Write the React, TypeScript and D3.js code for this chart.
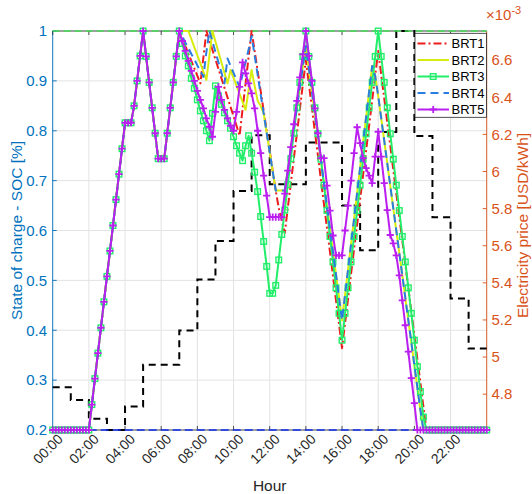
import React from "react";
import * as d3 from "d3";

// ---------- DATA ----------
// x tick hours (labels every 2 h)
const hourTicks = [0, 2, 4, 6, 8, 10, 12, 14, 16, 18, 20, 22];
const socTicks = [0.2, 0.3, 0.4, 0.5, 0.6, 0.7, 0.8, 0.9, 1];
const priceTicks = [4.8, 5, 5.2, 5.4, 5.6, 5.8, 6, 6.2, 6.4, 6.6];

// Hourly electricity price (x1e-3 USD/kWh), 00:00 ... 23:00
const price = [
  4.837, 4.769, 4.668, 4.607, 4.733, 4.959, 4.959, 5.143, 5.418, 5.626, 5.895, 6.195,
  5.931, 5.931, 6.156, 6.156, 5.817, 5.575, 6.213, 6.757, 6.191, 5.753, 5.316, 5.046,
];

// SOC limits
const socMax = 1;
const socMin = 0.2;

// SOC every 10 minutes, 00:00 ... 24:00
const BRT1 = [
  0.2, 0.2, 0.2, 0.2, 0.2, 0.2, 0.2, 0.2, 0.2, 0.2, 0.2, 0.2,
  0.2, 0.251, 0.303, 0.354, 0.405, 0.457, 0.508, 0.559, 0.61, 0.662, 0.713, 0.764,
  0.816, 0.816, 0.816, 0.85, 0.9, 0.95, 1, 0.949, 0.897, 0.846, 0.795, 0.744,
  0.744, 0.744, 0.795, 0.846, 0.897, 0.949, 1, 0.985, 0.97, 0.955, 0.94, 0.925,
  0.91, 0.895, 0.947, 1, 0.981, 0.962, 0.943, 0.924, 0.905, 0.886, 0.867, 0.848,
  0.829, 0.81, 0.79, 0.843, 0.895, 0.948, 1, 0.96, 0.92, 0.88, 0.84, 0.8,
  0.76, 0.72, 0.68, 0.645, 0.62, 0.595, 0.645, 0.694, 0.744, 0.793, 0.843, 0.893,
  0.942, 0.894, 0.846, 0.798, 0.75, 0.701, 0.653, 0.605, 0.557, 0.509, 0.46, 0.412,
  0.364, 0.414, 0.463, 0.513, 0.563, 0.612, 0.662, 0.712, 0.761, 0.811, 0.861, 0.91,
  0.96, 0.912, 0.865, 0.817, 0.77, 0.722, 0.675, 0.627, 0.58, 0.532, 0.485, 0.437,
  0.39, 0.342, 0.295, 0.247, 0.2, 0.2, 0.2, 0.2, 0.2, 0.2, 0.2, 0.2,
  0.2, 0.2, 0.2, 0.2, 0.2, 0.2, 0.2, 0.2, 0.2, 0.2, 0.2, 0.2,
  0.2,
];
const BRT2 = [
  0.2, 0.2, 0.2, 0.2, 0.2, 0.2, 0.2, 0.2, 0.2, 0.2, 0.2, 0.2,
  0.2, 0.251, 0.303, 0.354, 0.405, 0.457, 0.508, 0.559, 0.61, 0.662, 0.713, 0.764,
  0.816, 0.816, 0.816, 0.85, 0.9, 0.95, 1, 0.949, 0.897, 0.846, 0.795, 0.744,
  0.744, 0.744, 0.795, 0.846, 0.897, 0.949, 1, 1, 1, 1, 0.984, 0.967,
  0.951, 0.935, 0.918, 0.902, 0.951, 1, 0.979, 0.958, 0.937, 0.916, 0.895, 0.922,
  0.906, 0.89, 0.874, 0.858, 0.842, 0.882, 0.922, 0.89, 0.86, 0.85, 0.835, 0.796,
  0.757, 0.718, 0.68, 0.68, 0.68, 0.68, 0.721, 0.763, 0.804, 0.846, 0.887, 0.929,
  0.97, 0.924, 0.878, 0.832, 0.787, 0.741, 0.695, 0.649, 0.603, 0.557, 0.512, 0.466,
  0.42, 0.471, 0.522, 0.573, 0.624, 0.675, 0.726, 0.777, 0.828, 0.879, 0.93, 0.91,
  0.87, 0.825, 0.78, 0.735, 0.69, 0.645, 0.6, 0.555, 0.51, 0.465, 0.42, 0.375,
  0.33, 0.285, 0.24, 0.2, 0.2, 0.2, 0.2, 0.2, 0.2, 0.2, 0.2, 0.2,
  0.2, 0.2, 0.2, 0.2, 0.2, 0.2, 0.2, 0.2, 0.2, 0.2, 0.2, 0.2,
  0.2,
];
const BRT3 = [
  0.2, 0.2, 0.2, 0.2, 0.2, 0.2, 0.2, 0.2, 0.2, 0.2, 0.2, 0.2,
  0.2, 0.251, 0.303, 0.354, 0.405, 0.457, 0.508, 0.559, 0.61, 0.662, 0.713, 0.764,
  0.816, 0.816, 0.816, 0.85, 0.9, 0.95, 1, 0.949, 0.897, 0.846, 0.795, 0.744,
  0.744, 0.744, 0.795, 0.846, 0.897, 0.949, 1, 0.975, 0.95, 0.93, 0.905, 0.885,
  0.862, 0.84, 0.82, 0.8, 0.78, 0.835, 0.89, 0.87, 0.853, 0.836, 0.82, 0.805,
  0.788, 0.77, 0.755, 0.74, 0.77, 0.79, 0.755, 0.717, 0.678, 0.628, 0.578, 0.528,
  0.474, 0.474, 0.49, 0.541, 0.592, 0.641, 0.692, 0.744, 0.795, 0.846, 0.897, 0.949,
  1, 0.949, 0.897, 0.846, 0.794, 0.743, 0.691, 0.64, 0.588, 0.537, 0.485, 0.434,
  0.38, 0.434, 0.485, 0.537, 0.588, 0.64, 0.691, 0.743, 0.794, 0.846, 0.897, 0.949,
  1, 0.949, 0.897, 0.846, 0.794, 0.743, 0.691, 0.64, 0.588, 0.537, 0.485, 0.434,
  0.38, 0.327, 0.277, 0.226, 0.2, 0.2, 0.2, 0.2, 0.2, 0.2, 0.2, 0.2,
  0.2, 0.2, 0.2, 0.2, 0.2, 0.2, 0.2, 0.2, 0.2, 0.2, 0.2, 0.2,
  0.2,
];
const BRT4 = [
  0.2, 0.2, 0.2, 0.2, 0.2, 0.2, 0.2, 0.2, 0.2, 0.2, 0.2, 0.2,
  0.2, 0.251, 0.303, 0.354, 0.405, 0.457, 0.508, 0.559, 0.61, 0.662, 0.713, 0.764,
  0.816, 0.816, 0.816, 0.85, 0.9, 0.95, 1, 0.949, 0.897, 0.846, 0.795, 0.744,
  0.744, 0.744, 0.795, 0.846, 0.897, 0.949, 1, 0.989, 0.977, 0.966, 0.954, 0.943,
  0.931, 0.92, 0.908, 0.958, 1, 0.979, 0.958, 0.937, 0.916, 0.895, 0.945, 0.93,
  0.916, 0.902, 0.888, 0.913, 0.938, 0.963, 0.99, 0.951, 0.912, 0.873, 0.835, 0.796,
  0.757, 0.718, 0.68, 0.68, 0.68, 0.68, 0.721, 0.763, 0.804, 0.846, 0.887, 0.929,
  0.97, 0.924, 0.878, 0.832, 0.787, 0.741, 0.695, 0.649, 0.603, 0.557, 0.512, 0.466,
  0.42, 0.471, 0.522, 0.573, 0.624, 0.675, 0.726, 0.777, 0.828, 0.879, 0.93, 0.91,
  0.87, 0.825, 0.78, 0.735, 0.69, 0.645, 0.6, 0.555, 0.51, 0.465, 0.42, 0.375,
  0.33, 0.285, 0.24, 0.2, 0.2, 0.2, 0.2, 0.2, 0.2, 0.2, 0.2, 0.2,
  0.2, 0.2, 0.2, 0.2, 0.2, 0.2, 0.2, 0.2, 0.2, 0.2, 0.2, 0.2,
  0.2,
];
const BRT5 = [
  0.2, 0.2, 0.2, 0.2, 0.2, 0.2, 0.2, 0.2, 0.2, 0.2, 0.2, 0.2,
  0.2, 0.251, 0.303, 0.354, 0.405, 0.457, 0.508, 0.559, 0.61, 0.662, 0.713, 0.764,
  0.816, 0.816, 0.816, 0.85, 0.9, 0.95, 1, 0.949, 0.897, 0.846, 0.795, 0.744,
  0.744, 0.744, 0.795, 0.846, 0.897, 0.949, 1, 0.98, 0.96, 0.94, 0.92, 0.9,
  0.88, 0.862, 0.845, 0.825, 0.808, 0.788, 0.838, 0.888, 0.862, 0.842, 0.825, 0.81,
  0.8, 0.838, 0.888, 0.937, 0.915, 0.895, 0.875, 0.845, 0.8, 0.755, 0.71, 0.67,
  0.627, 0.627, 0.627, 0.627, 0.627, 0.674, 0.72, 0.767, 0.813, 0.86, 0.907, 0.953,
  1, 0.95, 0.9, 0.845, 0.795, 0.745, 0.745, 0.69, 0.64, 0.59, 0.55, 0.55,
  0.55, 0.6, 0.65, 0.7, 0.755, 0.807, 0.775, 0.745, 0.725, 0.71, 0.695, 0.748,
  0.798, 0.748, 0.695, 0.641, 0.591, 0.574, 0.55, 0.51, 0.46, 0.41, 0.357, 0.304,
  0.254, 0.2, 0.2, 0.2, 0.2, 0.2, 0.2, 0.2, 0.2, 0.2, 0.2, 0.2,
  0.2, 0.2, 0.2, 0.2, 0.2, 0.2, 0.2, 0.2, 0.2, 0.2, 0.2, 0.2,
  0.2,
];
const seriesNames = ["BRT1", "BRT2", "BRT3", "BRT4", "BRT5"];
const seriesValues = [BRT1, BRT2, BRT3, BRT4, BRT5];

// ---------- STYLE ----------
const W = 532;
const H = 494;
const PL = 52.7;
const PR = 486.7;
const PT = 31;
const PB = 430;
const FONT = "'Liberation Sans', Arial, Helvetica, sans-serif";
const LEFT_C = "#0072BD";
const RIGHT_C = "#D95319";
const AX_C = "#262626";
const styles = [
  { color: "#ee1c1c", dash: "8,3,2,3", marker: "none" },
  { color: "#d8ec10", dash: "none", marker: "none" },
  { color: "#22ee6a", dash: "none", marker: "square" },
  { color: "#2a7de0", dash: "8,5", marker: "none" },
  { color: "#bb1ff0", dash: "none", marker: "plus" },
];

function Marker({ kind, cx, cy, color }: { kind: string; cx: number; cy: number; color: string }) {
  if (kind === "square") {
    return <rect x={cx - 2.8} y={cy - 2.8} width={5.6} height={5.6} fill="none" stroke={color} strokeWidth={1.4} />;
  }
  if (kind === "plus") {
    return (
      <path d={`M${cx - 3.6},${cy}H${cx + 3.6}M${cx},${cy - 3.6}V${cy + 3.6}`} stroke={color} strokeWidth={1.8} fill="none" />
    );
  }
  return null;
}

export default function App() {
  const x = d3.scaleLinear().domain([0, 24]).range([PL, PR]);
  const yL = d3.scaleLinear().domain([socMin, socMax]).range([PB, PT]);
  const yR = d3
    .scaleLinear()
    .domain([d3.min(price) as number, d3.max(price) as number])
    .range([PB, PT]);

  const socLine = d3
    .line<number>()
    .x((_, i) => x(i / 6))
    .y((d) => yL(d));
  const pricePts: [number, number][] = price.map((p, i) => [i, p] as [number, number]);
  pricePts.push([24, price[price.length - 1]]);
  const priceLine = d3
    .line<[number, number]>()
    .x((d) => x(d[0]))
    .y((d) => yR(d[1]))
    .curve(d3.curveStepAfter);

  const gridX = [...hourTicks, 24];
  const legX = 415;
  const legY = 33.3;
  const legW = 71.4;
  const legH = 84;

  return (
    <svg
      width={W}
      height={H}
      style={{ position: "absolute", left: 0, top: 0, background: "#fff" }}
      fontFamily={FONT}
    >
      <rect x={0} y={0} width={W} height={H} fill="#fff" />
      {/* grid */}
      {gridX.map((h) => (
        <line key={"gx" + h} x1={x(h)} x2={x(h)} y1={PT} y2={PB} stroke="#e3e3e3" strokeWidth={1} />
      ))}
      {socTicks.map((v) => (
        <line key={"gy" + v} x1={PL} x2={PR} y1={yL(v)} y2={yL(v)} stroke="#e3e3e3" strokeWidth={1} />
      ))}
      {/* axes box */}
      <line x1={PL} x2={PR} y1={PT} y2={PT} stroke={AX_C} strokeWidth={0.8} />
      <line x1={PL} x2={PR} y1={PB} y2={PB} stroke={AX_C} strokeWidth={0.8} />
      <line x1={PL} x2={PL} y1={PT} y2={PB} stroke={LEFT_C} strokeWidth={0.9} />
      <line x1={PR} x2={PR} y1={PT} y2={PB} stroke={RIGHT_C} strokeWidth={0.9} />
      {/* ticks */}
      {hourTicks.map((h) => (
        <g key={"xt" + h}>
          <line x1={x(h)} x2={x(h)} y1={PB} y2={PB - 4} stroke={AX_C} strokeWidth={0.8} />
          <line x1={x(h)} x2={x(h)} y1={PT} y2={PT + 4} stroke={AX_C} strokeWidth={0.8} />
        </g>
      ))}
      {socTicks.map((v) => (
        <line key={"lt" + v} x1={PL} x2={PL + 4} y1={yL(v)} y2={yL(v)} stroke={LEFT_C} strokeWidth={0.9} />
      ))}
      {priceTicks.map((v) => (
        <line key={"rt" + v} x1={PR} x2={PR - 4} y1={yR(v)} y2={yR(v)} stroke={RIGHT_C} strokeWidth={0.9} />
      ))}

      {/* price */}
      <path d={priceLine(pricePts) || ""} fill="none" stroke="#000" strokeWidth={2} strokeDasharray="7,5" />
      {/* SOC limits */}
      <line x1={PL} x2={PR} y1={yL(socMax)} y2={yL(socMax)} stroke="#44dd55" strokeWidth={1.6} strokeDasharray="7,4" />
      <line x1={PL} x2={PR} y1={yL(socMin)} y2={yL(socMin)} stroke="#1030f0" strokeWidth={1.6} strokeDasharray="8,4" />

      {/* series */}
      {seriesValues.map((vals, si) => {
        const st = styles[si];
        return (
          <g key={seriesNames[si]}>
            <path
              d={socLine(vals) || ""}
              fill="none"
              stroke={st.color}
              strokeWidth={2}
              strokeDasharray={st.dash === "none" ? undefined : st.dash}
              strokeLinejoin="round"
            />
            {st.marker !== "none" &&
              vals.map((v, i) => <Marker key={i} kind={st.marker} cx={x(i / 6)} cy={yL(v)} color={st.color} />)}
          </g>
        );
      })}

      {/* left tick labels */}
      {socTicks.map((v) => (
        <text key={"ll" + v} x={47} y={yL(v)} dy="0.35em" textAnchor="end" fontSize={15} fill={LEFT_C}>
          {d3.format("~g")(v)}
        </text>
      ))}
      {/* right tick labels */}
      {priceTicks.map((v) => (
        <text key={"rl" + v} x={491.5} y={yR(v)} dy="0.35em" textAnchor="start" fontSize={15} fill={RIGHT_C}>
          {d3.format("~g")(v)}
        </text>
      ))}
      <text x={486} y={20} fontSize={15} fill={RIGHT_C}>
        ×10
        <tspan dy={-6} fontSize={11}>
          -3
        </tspan>
      </text>
      {/* x tick labels */}
      {hourTicks.map((h) => {
        const ax = x(h) + 11;
        const ay = 440;
        return (
          <text
            key={"xl" + h}
            x={ax}
            y={ay}
            textAnchor="end"
            fontSize={14}
            fill={AX_C}
            transform={`rotate(-45 ${ax} ${ay})`}
          >
            {`${String(h).padStart(2, "0")}:00`}
          </text>
        );
      })}
      {/* axis titles */}
      <text x={(PL + PR) / 2} y={491} textAnchor="middle" fontSize={15.5} fill={AX_C}>
        Hour
      </text>
      <text
        x={0}
        y={0}
        transform={`translate(22 ${(PT + PB) / 2}) rotate(-90)`}
        textAnchor="middle"
        fontSize={15.5}
        fill={LEFT_C}
      >
        State of charge - SOC [%]
      </text>
      <text
        x={0}
        y={0}
        transform={`translate(528 ${(PT + PB) / 2 - 5}) rotate(-90)`}
        textAnchor="middle"
        fontSize={15.5}
        fill={RIGHT_C}
      >
        Electricity price [USD/kWh]
      </text>

      {/* legend */}
      <rect x={legX} y={legY} width={legW} height={legH} fill="#fff" stroke={AX_C} strokeWidth={0.8} />
      {seriesNames.map((name, si) => {
        const st = styles[si];
        const cy = legY + 10.2 + si * 16.5;
        return (
          <g key={"lg" + name}>
            <line
              x1={legX + 2.5}
              x2={legX + 34}
              y1={cy}
              y2={cy}
              stroke={st.color}
              strokeWidth={2}
              strokeDasharray={st.dash === "none" ? undefined : st.dash}
            />
            {st.marker !== "none" && <Marker kind={st.marker} cx={legX + 18.2} cy={cy} color={st.color} />}
            <text x={legX + 36.5} y={cy} dy="0.36em" fontSize={13} fill="#000">
              {name}
            </text>
          </g>
        );
      })}
    </svg>
  );
}
